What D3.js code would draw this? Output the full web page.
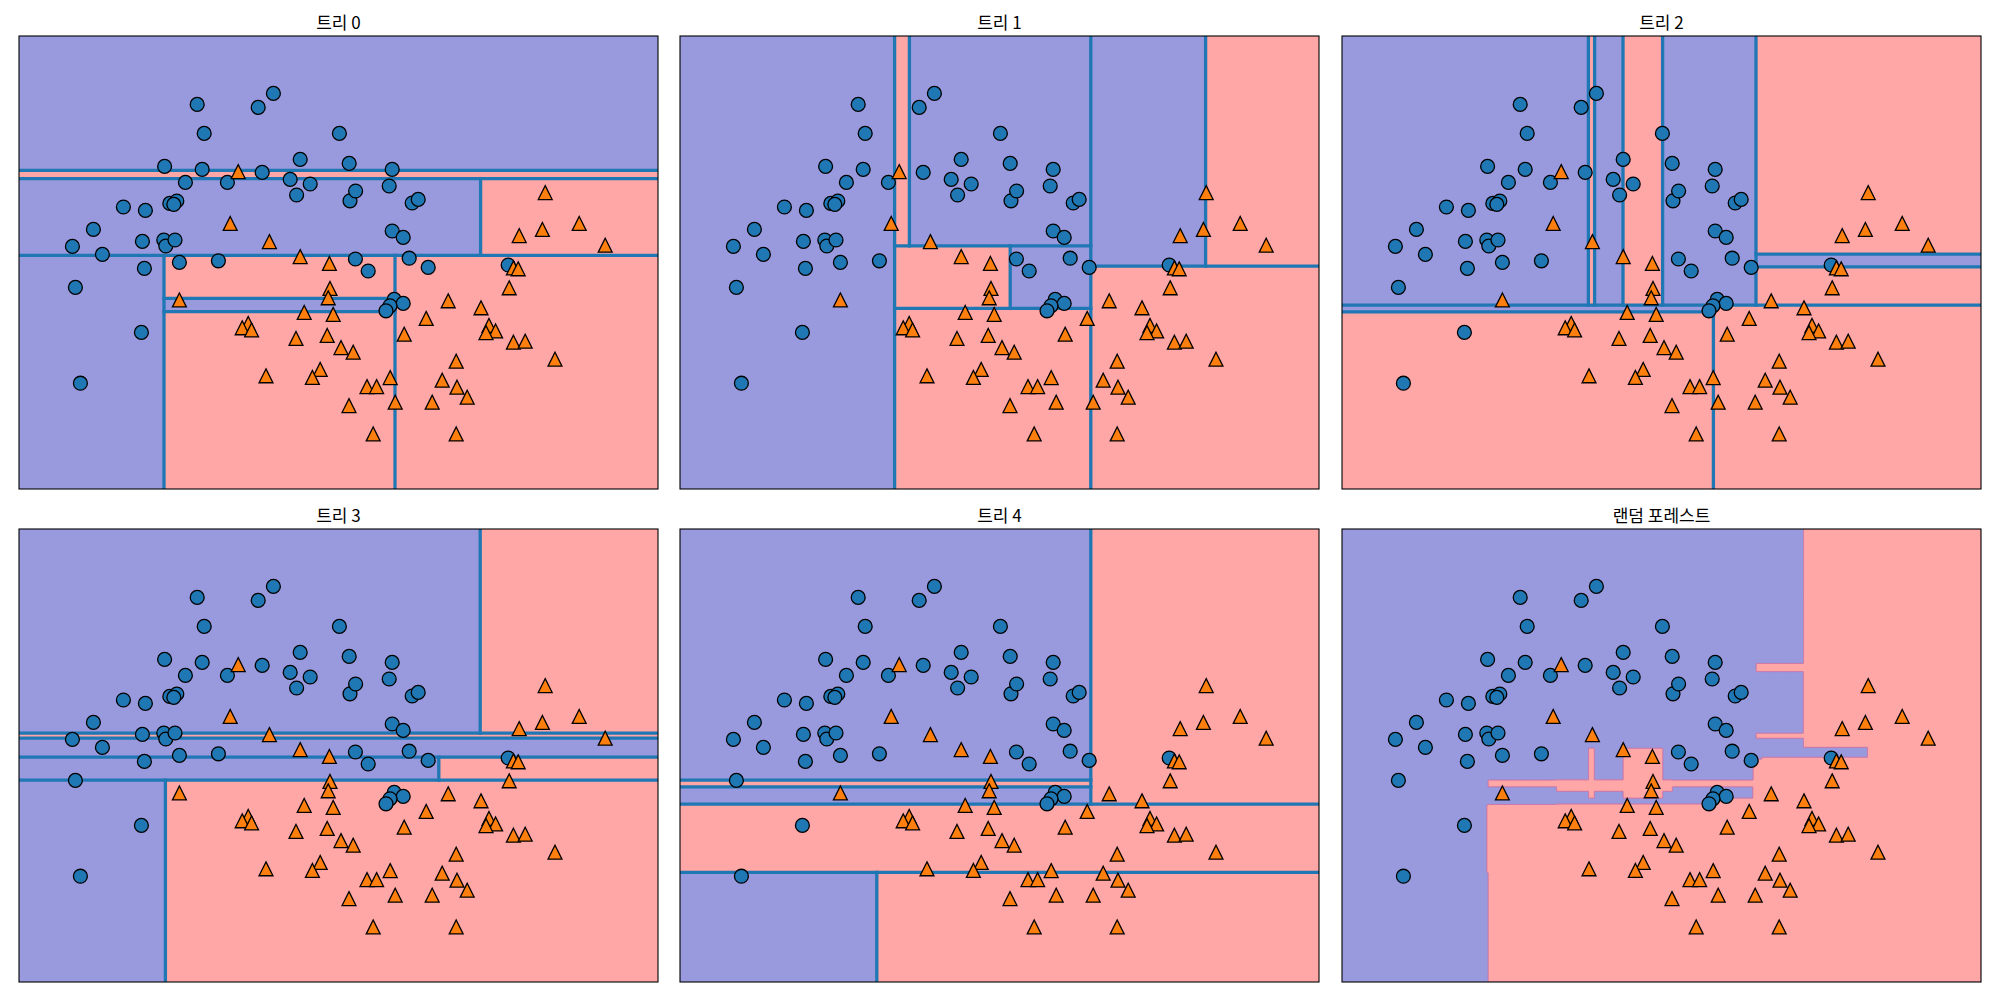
<!DOCTYPE html>
<html><head><meta charset="utf-8">
<script src="https://cdn.jsdelivr.net/npm/d3@7"></script>
<style>body{margin:0;background:#fff;}</style>
</head><body>
<svg id="chart" width="2000" height="1000" xmlns="http://www.w3.org/2000/svg"></svg>
<script>
// ---------------- data ----------------
const titles = ["트리 0", "트리 1", "트리 2", "트리 3", "트리 4", "랜덤 포레스트"];

// class 0 (circles)
const class0X = [-0.309,-0.004,0.072,-0.274,0.402,-0.472,-0.284,0.016,0.206,0.451,
  -0.368,-0.158,0.156,0.256,0.188,0.455,0.483,-0.446,-0.411,-0.426,
  -0.678,-0.568,-0.828,-0.933,-0.783,-0.583,-0.476,-0.466,-0.420,-0.398,
  -0.203,-0.573,0.666,0.651,0.766,0.796,0.666,0.721,0.482,0.751,
  0.846,1.246,0.546,0.676,0.721,0.655,0.635,-0.918,-0.588,-0.893];
const class0Y = [1.128,1.113,1.183,0.983,0.983,0.818,0.803,0.788,0.853,0.833,
  0.738,0.738,0.753,0.730,0.675,0.646,0.695,0.633,0.645,0.628,
  0.615,0.598,0.503,0.418,0.378,0.443,0.450,0.420,0.450,0.338,
  0.346,0.308,0.803,0.720,0.635,0.653,0.495,0.463,0.355,0.359,
  0.313,0.325,0.295,0.153,0.133,0.121,0.096,0.213,-0.012,-0.266];

// class 1 (triangles)
const class1X = [-0.104,-0.144,0.052,0.206,0.352,1.431,1.601,1.417,1.301,1.731,
  1.272,1.296,1.251,0.946,1.110,0.836,1.150,1.183,1.135,0.726,
  1.272,1.331,0.410,0.471,1.480,0.986,0.916,0.990,0.656,0.540,
  0.588,1.041,0.450,0.681,0.866,0.571,0.986,-0.398,0.355,0.346,
  0.226,0.371,-0.054,-0.084,-0.037,0.185,0.341,0.035,0.306,0.267];
const class1Y = [0.792,0.533,0.442,0.367,0.333,0.687,0.533,0.503,0.472,0.424,
  0.310,0.306,0.211,0.146,0.111,0.058,0.023,-0.005,-0.013,-0.021,
  -0.061,-0.056,-0.088,-0.111,-0.146,-0.156,-0.251,-0.286,-0.238,-0.283,
  -0.283,-0.336,-0.378,-0.361,-0.361,-0.520,-0.520,0.150,0.208,0.161,
  0.088,0.078,0.033,0.011,0.000,-0.042,-0.027,-0.229,-0.197,-0.237];

// fitted trees: [feature, threshold, subtree if value <= threshold, subtree if value > threshold]; leaves = class
const tree0 = [1, 0.373,
  [0, -0.475, 0, [0, 0.68, [1, 0.158, [1, 0.092, 1, 0], 1], 1]],
  [1, 0.757, [0, 1.108, 0, 1], [1, 0.798, 1, 0]]];
const tree1 = [0, -0.127, 0,
  [0, 0.854,
    [1, 0.108, 1, [1, 0.421, [0, 0.451, 1, 0], [0, -0.053, 1, 0]]],
    [1, 0.319, 1, [0, 1.428, 0, 1]]]];
const tree2 = [1, 0.124,
  [0, 0.657, [1, 0.091, 1, 0], 1],
  [0, 0.87,
    [0, 0.403, [0, 0.205, [0, 0.032, 0, [0, 0.063, 1, 0]], 1], 0],
    [1, 0.379, [1, 0.316, 1, 0], 1]]];
const tree3 = [1, 0.449,
  [1, 0.424, [1, 0.329, [1, 0.214, [0, -0.468, 0, 1], [0, 0.899, 0, 1]], 0], 1],
  [0, 1.106, 0, 1]];
const tree4 = [1, 0.094,
  [1, -0.247, [0, -0.216, 0, 1], 1],
  [0, 0.854, [1, 0.214, [1, 0.181, 0, 1], 0], 1]];
const trees = [tree0, tree1, tree2, tree3, tree4];

const xDomain = [-1.2, 1.995];
const yDomain = [-0.795, 1.47];

// ---------------- layout ----------------
const panelW = 639, panelH = 453;
const colX = [19, 680, 1342];
const rowY = [36, 529];
const fillBlue = "#9999dd", fillRed = "#ffa6a6";
const lineColor = "#1f77b4";

const svg = d3.select("#chart");
const x = d3.scaleLinear().domain(xDomain).range([0, panelW]);
const y = d3.scaleLinear().domain(yDomain).range([panelH, 0]);

function predict(node, px, py) {
  while (typeof node !== "number") {
    const v = node[0] === 0 ? px : py;
    node = v <= node[1] ? node[2] : node[3];
  }
  return node;
}

function partition(node, x0, x1, y0, y1, leaves, splits) {
  if (typeof node === "number") { leaves.push({x0, x1, y0, y1, c: node}); return; }
  const [f, t, lo, hi] = node;
  if (f === 0) {
    splits.push({x0: t, x1: t, y0, y1});
    partition(lo, x0, t, y0, y1, leaves, splits);
    partition(hi, t, x1, y0, y1, leaves, splits);
  } else {
    splits.push({x0, x1, y0: t, y1: t});
    partition(lo, x0, x1, y0, t, leaves, splits);
    partition(hi, x0, x1, t, y1, leaves, splits);
  }
}

const pts0 = class0X.map((v, i) => ({x: v, y: class0Y[i]}));
const pts1 = class1X.map((v, i) => ({x: v, y: class1Y[i]}));
const ms = 13.9, half = ms / 2;
const triPath = `M0,${-half}L${half},${half}L${-half},${half}Z`;

function drawPoints(g) {
  g.selectAll("circle.c0").data(pts0).join("circle")
    .attr("class", "c0")
    .attr("cx", d => x(d.x)).attr("cy", d => y(d.y)).attr("r", half)
    .attr("fill", "#1f77b4").attr("stroke", "#000").attr("stroke-width", 1.3);
  g.selectAll("path.c1").data(pts1).join("path")
    .attr("class", "c1")
    .attr("d", triPath)
    .attr("transform", d => `translate(${x(d.x)},${y(d.y)})`)
    .attr("fill", "#ff7f0e").attr("stroke", "#000").attr("stroke-width", 1.3)
    .attr("stroke-linejoin", "miter");
}

const defs = svg.append("defs");

titles.forEach((title, k) => {
  const r = Math.floor(k / 3), c = k % 3;
  const g = svg.append("g").attr("transform", `translate(${colX[c]},${rowY[r]})`);
  defs.append("clipPath").attr("id", "clip" + k)
    .append("rect").attr("width", panelW).attr("height", panelH);
  const body = g.append("g").attr("clip-path", `url(#clip${k})`);

  if (k < 5) {
    const leaves = [], splits = [];
    partition(trees[k], xDomain[0], xDomain[1], yDomain[0], yDomain[1], leaves, splits);
    body.selectAll("rect.leaf").data(leaves).join("rect")
      .attr("class", "leaf")
      .attr("x", d => x(d.x0)).attr("width", d => x(d.x1) - x(d.x0))
      .attr("y", d => y(d.y1)).attr("height", d => y(d.y0) - y(d.y1))
      .attr("fill", d => d.c ? fillRed : fillBlue)
      .attr("stroke", d => d.c ? fillRed : fillBlue).attr("stroke-width", 0.5);
    body.selectAll("line.split").data(splits).join("line")
      .attr("class", "split")
      .attr("x1", d => x(d.x0)).attr("x2", d => x(d.x1))
      .attr("y1", d => y(d.y0)).attr("y2", d => y(d.y1))
      .attr("stroke", lineColor).attr("stroke-width", 3.3)
      .attr("stroke-linecap", "square");
  } else {
    // random forest: average of the trees' votes on a grid, contour at 0.5
    const n = 1000, m = 1000;
    const sx = (xDomain[1] - xDomain[0]) / (n - 1), sy = (yDomain[1] - yDomain[0]) / (m - 1);
    const values = new Float64Array(n * m);
    for (let j = 0; j < m; j++) {
      const py = yDomain[0] + j * sy;
      for (let i = 0; i < n; i++) {
        const px = xDomain[0] + i * sx;
        let s = 0;
        for (const t of trees) s += predict(t, px, py);
        values[j * n + i] = s / trees.length;
      }
    }
    const contours = d3.contours().size([n, m]).thresholds([0.5])(values);
    const proj = d3.geoTransform({
      point: function(gx, gy) {
        this.stream.point(x(xDomain[0] + (gx - 0.5) * sx), y(yDomain[0] + (gy - 0.5) * sy));
      }
    });
    const path = d3.geoPath(proj);
    body.append("rect").attr("width", panelW).attr("height", panelH).attr("fill", fillBlue);
    body.selectAll("path.region").data(contours).join("path")
      .attr("class", "region")
      .attr("d", path)
      .attr("fill", fillRed)
      .attr("stroke", "#cc6fa2").attr("stroke-width", 1);
  }
  drawPoints(body);

  g.append("rect").attr("width", panelW).attr("height", panelH)
    .attr("fill", "none").attr("stroke", "#000").attr("stroke-width", 1.1);
  g.append("text").attr("x", panelW / 2).attr("y", -7.5)
    .attr("text-anchor", "middle")
    .attr("font-family", "'Noto Sans CJK KR', 'Noto Sans', sans-serif")
    .attr("font-size", 17).attr("fill", "#000")
    .text(title);
});
</script>
</body></html>
